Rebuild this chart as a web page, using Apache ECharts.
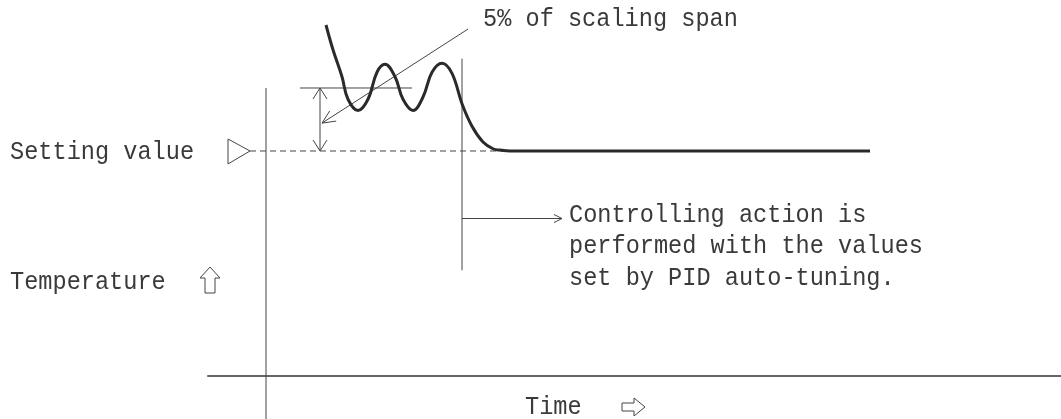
<!DOCTYPE html>
<html>
<head>
<meta charset="utf-8">
<script src="https://cdn.jsdelivr.net/npm/echarts@6/dist/echarts.min.js"></script>
<style>
html, body { margin: 0; padding: 0; background: #fff; }
#main { width: 1061px; height: 419px; }
</style>
</head>
<body>
<div id="main"></div>
<script>
// 温度曲线——PID自整定过程
var curveTime = [6.0, 6.7, 7.6, 8.2, 9.2, 10.2, 11.1, 11.9, 12.9, 13.7, 14.7, 15.7, 16.6, 17.6, 18.6, 19.6, 20.6, 21.7, 22.7, 23.4, 24.4, 60.4];
var curveTemp = [156, 145, 133, 123, 118, 123, 135, 138.5, 133, 123, 118, 124, 135, 139, 134.5, 121, 111, 104, 101, 100.4, 100, 100];

var settingValue = 100;   // SV
var bandTop = 128;        // SV + 5% of scaling span
var tuningEnd = 19.6;     // auto-tuning finished here
var yAxisTop = 128;

var textSpan = '5% of scaling span';
var textSV = 'Setting value';
var textTemp = 'Temperature';
var textTime = 'Time';
var textAction = ['Controlling action is', 'performed with the values', 'set by PID auto-tuning.'];

var FONT = '23.6px "Liberation Mono", "DejaVu Sans Mono", monospace';
var INK = '#3a3a3a';
var TEXT_SY = 1.13;   // 原图字体偏高

var curveData = [];
for (var i = 0; i < curveTime.length; i++) {
    curveData.push([curveTime[i], curveTemp[i]]);
}

var chart = echarts.init(document.getElementById('main'));

var option = {
    animation: false,
    grid: { left: 208, right: 0, top: 0, bottom: 0 },
    xAxis: {
        type: 'value',
        min: -5.8,
        max: 79.5,
        axisLine: { onZero: true, lineStyle: { color: '#666', width: 2 } },
        axisTick: { show: false },
        axisLabel: { show: false },
        splitLine: { show: false }
    },
    yAxis: {
        type: 'value',
        min: -19.11,
        max: 167.11,
        axisLine: { show: false },
        axisTick: { show: false },
        axisLabel: { show: false },
        splitLine: { show: false }
    },
    series: [
        { // vertical (temperature) axis
            type: 'line',
            data: [[0, -19.11], [0, yAxisTop]],
            symbol: 'none',
            lineStyle: { color: '#444', width: 1 },
            silent: true
        },
        { // setting value dashed line
            type: 'line',
            data: [[-1.6, settingValue], [24, settingValue]],
            symbol: 'none',
            lineStyle: { color: '#444', width: 1, type: [6, 4] },
            silent: true
        },
        { // 5% band top
            type: 'line',
            data: [[3.4, bandTop], [14.6, bandTop]],
            symbol: 'none',
            lineStyle: { color: '#444', width: 1 },
            silent: true
        },
        { // end of tuning marker
            type: 'line',
            data: [[tuningEnd, 47], [tuningEnd, 141]],
            symbol: 'none',
            lineStyle: { color: '#444', width: 1 },
            silent: true
        },
        { // temperature curve
            type: 'line',
            data: curveData,
            smooth: 0.4,
            symbol: 'none',
            clip: false,
            lineStyle: { color: '#2a2a2a', width: 3 },
            z: 5
        }
    ]
};
chart.setOption(option);

function px(x, y) {
    return chart.convertToPixel({ gridIndex: 0 }, [x, y]);
}
// 开口箭头
function arrowHead(tip, from, len, half) {
    var dx = tip[0] - from[0], dy = tip[1] - from[1];
    var d = Math.sqrt(dx * dx + dy * dy);
    var ux = dx / d, uy = dy / d;
    var bx = tip[0] - ux * len, by = tip[1] - uy * len;
    return {
        type: 'polyline',
        shape: { points: [[bx - uy * half, by + ux * half], tip, [bx + uy * half, by - ux * half]] },
        style: { stroke: '#444', lineWidth: 1, fill: null }
    };
}
function seg(a, b) {
    return {
        type: 'line',
        shape: { x1: a[0], y1: a[1], x2: b[0], y2: b[1] },
        style: { stroke: '#444', lineWidth: 1 }
    };
}
function label(text, x, y, va) {
    return {
        type: 'text',
        x: x, y: y,
        scaleY: TEXT_SY,
        style: { text: text, font: FONT, fill: INK, verticalAlign: va || 'middle', lineHeight: 31.5 / TEXT_SY }
    };
}

var g = [];
// double arrow for the 5% band
var bTop = px(5.4, bandTop), bBot = px(5.4, settingValue);
g.push(seg(bTop, bBot));
g.push(arrowHead(bTop, bBot, 11, 7));
g.push(arrowHead(bBot, bTop, 11, 7));
// leader line to the band
var lStart = px(20.2, 154.2), lEnd = px(5.6, 112.4);
g.push(seg(lStart, lEnd));
g.push(arrowHead(lEnd, lStart, 13, 6));
// arrow from tuning end to the note
var aStart = px(tuningEnd, 70), aEnd = px(29.6, 70);
g.push(seg(aStart, aEnd));
g.push(arrowHead(aEnd, aStart, 8, 4));
// SV triangle
var sv = px(-1.6, settingValue);
g.push({
    type: 'polygon',
    shape: { points: [[sv[0] - 22, sv[1] - 12], [sv[0], sv[1]], [sv[0] - 22, sv[1] + 13]] },
    style: { stroke: '#444', lineWidth: 1, fill: null }
});
// up arrow (temperature)
g.push({
    type: 'polygon',
    shape: { points: [[210, 267], [220, 278], [215, 278], [215, 293], [205, 293], [205, 278], [200, 278]] },
    style: { stroke: '#444', lineWidth: 1, fill: null }
});
// right arrow (time)
g.push({
    type: 'polygon',
    shape: { points: [[622, 403], [634, 403], [634, 398], [645, 407], [634, 416], [634, 411], [622, 411]] },
    style: { stroke: '#444', lineWidth: 1, fill: null }
});
// texts
g.push(label(textSpan, 483, 19));
g.push(label(textSV, 10, 152));
g.push(label(textTemp, 10, 282));
g.push(label(textTime, 525, 407));
g.push(label(textAction.join('\n'), 569, 199, 'top'));

chart.setOption({ graphic: g });
</script>
</body>
</html>
